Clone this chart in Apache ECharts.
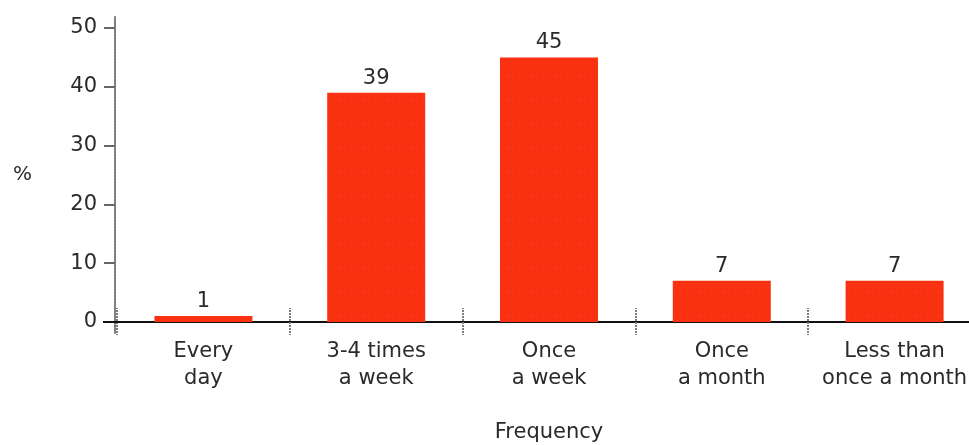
<!DOCTYPE html>
<html>
<head>
<meta charset="utf-8">
<style>
  html, body { margin: 0; padding: 0; background: #fff; }
  #chart { width: 969px; height: 445px; }
</style>
<script src="https://cdn.jsdelivr.net/npm/echarts@6/dist/echarts.min.js"></script>
</head>
<body>
<div id="chart"></div>
<script>
// Share of respondents by frequency
const categories = ['Every\nday', '3-4 times\na week', 'Once\na week', 'Once\na month', 'Less than\nonce a month'];
const percentValues = [1, 39, 45, 7, 7];
const yTickValues = [0, 10, 20, 30, 40, 50];

const FONT = '"DejaVu Sans", sans-serif';
const TEXT = '#2a2a2a';
const RULE = '#7d7d7d';

const chart = echarts.init(document.getElementById('chart'), null, { renderer: 'canvas' });

chart.setOption({
  animation: false,
  backgroundColor: '#ffffff',
  grid: { left: 117, top: 17, width: 864, height: 316, containLabel: false, outerBoundsMode: 'none' },
  xAxis: [
    {
      type: 'category',
      data: categories,
      name: 'Frequency',
      nameLocation: 'middle',
      nameGap: 89,
      nameTextStyle: { fontFamily: FONT, fontSize: 21, color: TEXT },
      axisLine: { onZero: true, lineStyle: { color: '#111', width: 2 } },
      axisTick: { show: true, inside: false, length: 13, lineStyle: { color: RULE, type: [2, 1], width: 2 } },
      axisLabel: {
        margin: 5,
        fontFamily: FONT, fontSize: 21, lineHeight: 27, color: TEXT,
        interval: 0
      },
      splitLine: { show: false }
    },
    {
      // upper half of the crossing category ticks, rising from the grid floor
      type: 'category',
      data: categories,
      position: 'bottom',
      axisLine: { show: false, onZero: false },
      axisTick: { show: true, inside: true, length: 25, lineStyle: { color: RULE, type: [2, 1], width: 2 } },
      axisLabel: { show: false },
      splitLine: { show: false }
    }
  ],
  yAxis: {
    type: 'value',
    min: -1.87,
    max: 51.87,
    offset: 2,
    name: '%',
    nameLocation: 'middle',
    nameRotate: 0,
    nameGap: 83,
    nameTextStyle: { fontFamily: FONT, fontSize: 20, color: TEXT, align: 'right', verticalAlign: 'middle' },
    axisLine: { show: true, lineStyle: { color: RULE, type: [2, 1], width: 2 } },
    axisTick: { show: true, length: 11, customValues: yTickValues, lineStyle: { color: '#666', width: 2 } },
    axisLabel: {
      customValues: yTickValues,
      margin: 18,
      fontFamily: FONT, fontSize: 21, color: TEXT
    },
    splitLine: { show: false }
  },
  series: [
    {
      type: 'bar',
      data: percentValues,
      barWidth: 98,
      itemStyle: {
        color: '#fa3212',
        decal: {
          symbol: 'rect',
          symbolSize: 1,
          color: 'rgba(150, 20, 0, 0.28)',
          dashArrayX: [1, 5],
          dashArrayY: [1, 5],
          rotation: 0
        }
      },
      label: {
        show: true,
        position: 'top',
        distance: 4,
        fontFamily: FONT, fontSize: 21, color: TEXT
      }
    }
  ]
});

// Extend the baseline a little to the left of the value axis
const zeroY = chart.convertToPixel({ yAxisIndex: 0 }, 0);
const axisX = chart.convertToPixel({ xAxisIndex: 0 }, 0) - 172.8 / 2;
chart.setOption({
  graphic: [{
    type: 'line',
    shape: { x1: axisX - 14, y1: zeroY, x2: axisX + 2, y2: zeroY },
    style: { stroke: '#111', lineWidth: 2 },
    z: 10
  }]
});
</script>
</body>
</html>
